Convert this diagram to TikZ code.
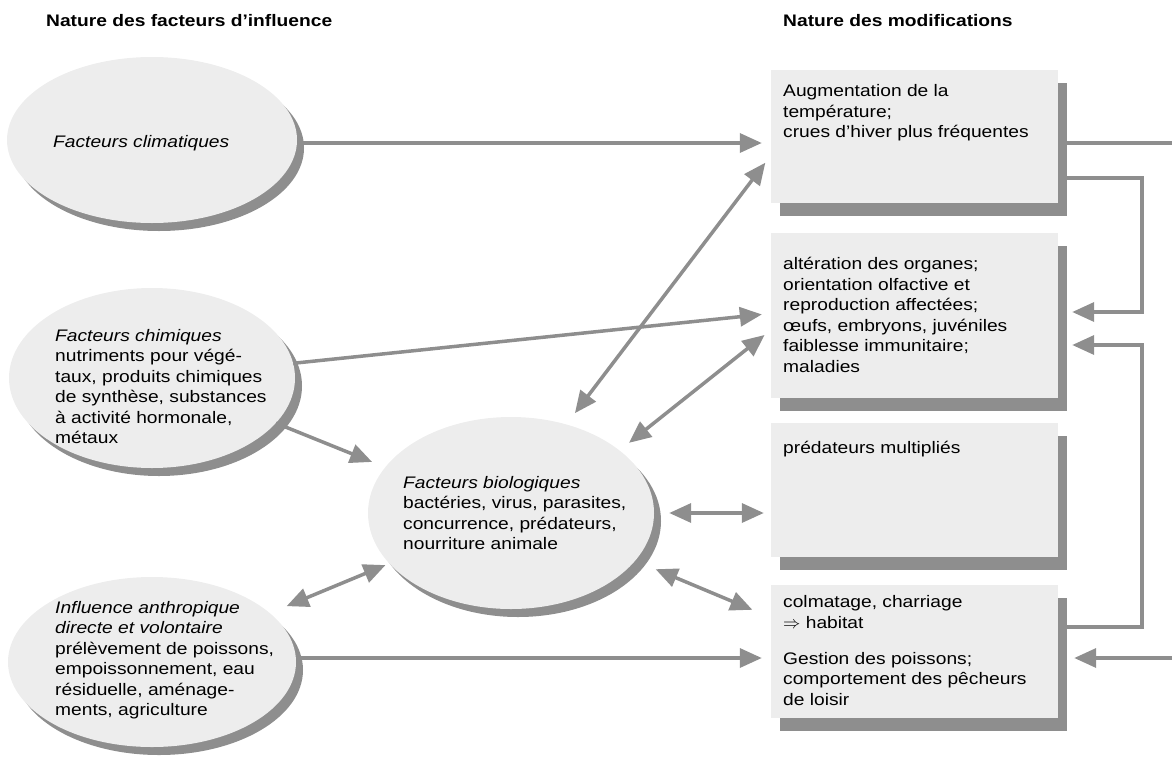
\documentclass[tikz,border=0pt]{standalone}
\usepackage{fontspec}
\setmainfont{Liberation Sans}[FakeStretch=1.15]
\usetikzlibrary{positioning,shapes.geometric,shadows,arrows.meta}
\definecolor{boxF}{RGB}{237,237,237}
\definecolor{shd}{RGB}{142,142,142}
\definecolor{arr}{RGB}{142,142,142}

\begin{document}
\begin{tikzpicture}[
  x=1pt, y=-1pt,
  font=\fontsize{16.7}{20.5}\selectfont,
  factor/.style={ellipse, fill=boxF, inner sep=0pt, drop shadow={shadow xshift=7pt, shadow yshift=-8pt, fill=shd, opacity=1}},
  modbox/.style={rectangle, fill=boxF, inner sep=0pt, minimum width=287pt, drop shadow={shadow xshift=9pt, shadow yshift=-12.5pt, fill=shd, opacity=1}},
  txt/.style={anchor=west, align=left, inner sep=0pt},
  head/.style={anchor=west, inner sep=0pt, font=\fontsize{16.7}{20}\selectfont\bfseries},
  flow/.style={-{Triangle[length=22pt,width=19pt]}, line width=3.5pt, draw=arr, shorten >=9pt},
  biflow/.style={{Triangle[length=22pt,width=19pt]}-{Triangle[length=22pt,width=19pt]}, line width=3.5pt, draw=arr},
  link/.style={line width=3.5pt, draw=arr},
]
\useasboundingbox (0,0) rectangle (1172,763);

% ---------- headings ----------
\node[head] (hL) at (46,21) {Nature des facteurs d’influence};
\node[head] (hR) at (783,21) {Nature des modifications};

% ---------- influence factors ----------
\node[factor, minimum width=290pt, minimum height=166pt] (clim) at (152,140) {};
\node[factor, minimum width=286pt, minimum height=180pt] (chim) at (152,378) {};
\node[factor, minimum width=286pt, minimum height=192pt] (bio) at (511,513) {};
\node[factor, minimum width=288pt, minimum height=170pt] (anthr) at (152,662) {};

\node[txt] (climT) at (53,143) {\itshape Facteurs climatiques};
\node[txt] (chimT) at (55,386.5) {\textit{Facteurs chimiques}\\nutriments pour végé-\\taux, produits chimiques\\de synthèse, substances\\à activité hormonale,\\métaux};
\node[txt] (bioT) at (403,513) {\textit{Facteurs biologiques}\\bactéries, virus, parasites,\\concurrence, prédateurs,\\nourriture animale};
\node[txt] (anthrT) at (55,660) {\textit{Influence anthropique}\\\textit{directe et volontaire}\\prélèvement de poissons,\\empoissonnement, eau\\résiduelle, aménage-\\ments, agriculture};

% ---------- modifications ----------
\node[modbox, minimum height=133pt] (m1) at (914.5,136.5) {};
\node[modbox, minimum height=165pt] (m2) at (914.5,315.5) {};
\node[modbox, minimum height=134pt] (m3) at (914.5,490) {};
\node[modbox, minimum height=133pt] (m4) at (914.5,651.5) {};

\node[txt] (m1T) at (783,113) {Augmentation de la\\température;\\crues d’hiver plus fréquentes};
\node[txt] (m2T) at (783,315) {altération des organes;\\orientation olfactive et\\reproduction affectées;\\œufs, embryons, juvéniles\\faiblesse immunitaire;\\maladies};
\node[txt] (m3T) at (783,449) {prédateurs multipliés};
\node[txt] (m4T) at (783,650.5) {colmatage, charriage\\$\Rightarrow$ habitat\\[15.5pt]Gestion des poissons;\\comportement des pêcheurs\\de loisir};

% ---------- flows ----------
\draw[flow] ([yshift=-3pt]clim.east) -- ([yshift=-3pt]clim.east -| m1.west);
\draw[flow] (chim) -- ([yshift=2pt]m2.west);
\draw[flow, shorten >=14pt] (chim.-20) -- (bio.160);
\draw[flow] ([yshift=4pt]anthr.east) -- ([yshift=4pt]anthr.east -| m4.west);

\draw[biflow, shorten <=14pt, shorten >=9pt] (bio.58) -- ([yshift=-19pt]m1.west);
\draw[biflow, shorten <=12pt, shorten >=8pt] (bio.30) -- ([yshift=-14.5pt]m2.west);
\draw[biflow, shorten <=15pt, shorten >=7pt] (bio.east) -- (bio.east -| m3.west);
\draw[biflow, shorten <=22pt, shorten >=20pt] (bio.-21) -- ([yshift=34pt]m4.west);
\draw[biflow, shorten <=18pt, shorten >=4pt] (anthr) -- (bio);

% right-hand links
\coordinate (outA) at (1172,143);
\coordinate (inB) at (1172,658);
\draw[link] ([yshift=-6.5pt]m1.east) -- (outA);
\draw[flow, shorten >=14pt] ([yshift=-41.5pt]m1.east) -- ++(84,0) |- ([yshift=3.5pt]m2.east);
\draw[flow, shorten >=14pt] ([yshift=24.5pt]m4.east) -- ++(84,0) |- ([yshift=-29.5pt]m2.east);
\draw[flow, shorten >=16pt] (inB) -- (inB -| m4.east);

\end{tikzpicture}
\end{document}
